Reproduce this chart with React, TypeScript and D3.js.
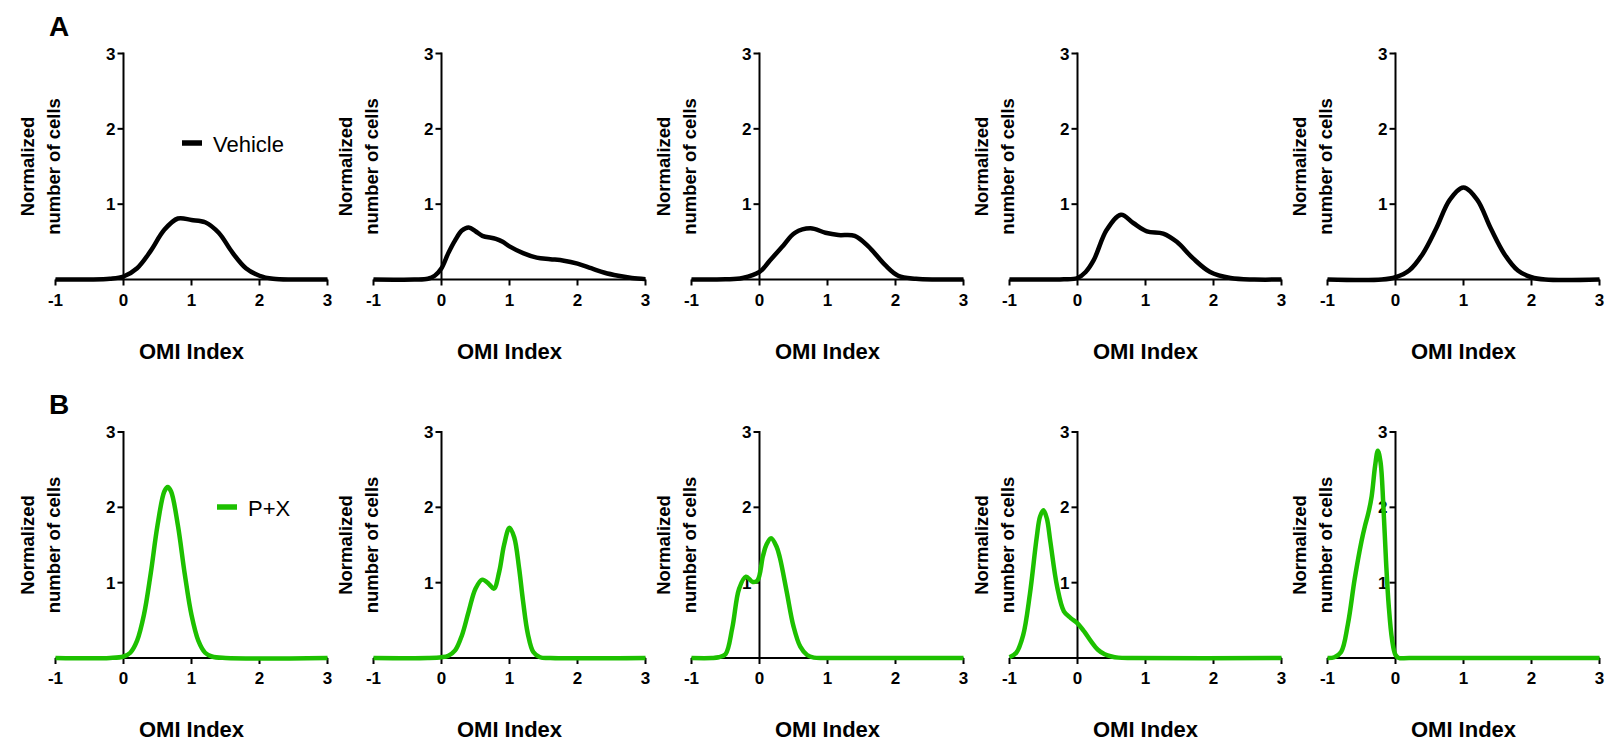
import React from 'react';
import * as d3 from 'd3';

// OMI index grid (x) and normalized cell counts (y), read per panel
const vehicle1X = [-1, -0.5, -0.2, 0, 0.2, 0.4, 0.6, 0.8, 1.0, 1.2, 1.4, 1.6, 1.8, 2.0, 2.2, 2.5, 3];
const vehicle1Y = [0, 0, 0.01, 0.04, 0.15, 0.38, 0.66, 0.81, 0.79, 0.76, 0.62, 0.36, 0.15, 0.05, 0.01, 0, 0];

const vehicle2X = [-1, -0.4, -0.2, -0.1, 0, 0.1, 0.2, 0.3, 0.4, 0.5, 0.6, 0.8, 0.9, 1.0, 1.2, 1.4, 1.6, 1.8, 2.0, 2.2, 2.4, 2.6, 2.8, 3];
const vehicle2Y = [0, 0, 0.01, 0.05, 0.15, 0.35, 0.52, 0.65, 0.69, 0.64, 0.58, 0.54, 0.5, 0.44, 0.35, 0.29, 0.27, 0.25, 0.21, 0.15, 0.09, 0.05, 0.02, 0.005];

const vehicle3X = [-1, -0.5, -0.25, 0, 0.15, 0.33, 0.52, 0.75, 0.97, 1.16, 1.4, 1.6, 1.85, 2.04, 2.3, 2.6, 3];
const vehicle3Y = [0, 0.003, 0.02, 0.1, 0.25, 0.43, 0.62, 0.68, 0.62, 0.59, 0.58, 0.44, 0.19, 0.05, 0.01, 0, 0];

const vehicle4X = [-1, -0.4, -0.2, 0, 0.12, 0.24, 0.43, 0.64, 0.82, 1.02, 1.26, 1.46, 1.7, 1.95, 2.25, 2.6, 3];
const vehicle4Y = [0, 0, 0.003, 0.02, 0.1, 0.26, 0.66, 0.86, 0.75, 0.64, 0.61, 0.5, 0.28, 0.1, 0.02, 0, 0];

const vehicle5X = [-1, -0.2, 0, 0.2, 0.4, 0.6, 0.8, 1.0, 1.2, 1.4, 1.6, 1.8, 2.0, 2.2, 3];
const vehicle5Y = [0, 0, 0.03, 0.12, 0.34, 0.68, 1.06, 1.22, 1.06, 0.68, 0.34, 0.12, 0.03, 0, 0];

const treated1X = [-1, -0.2, 0, 0.1, 0.2, 0.3, 0.4, 0.5, 0.6, 0.65, 0.7, 0.8, 0.9, 1.0, 1.1, 1.2, 1.3, 1.5, 3];
const treated1Y = [0, 0, 0.02, 0.07, 0.23, 0.57, 1.12, 1.76, 2.21, 2.27, 2.21, 1.76, 1.12, 0.57, 0.23, 0.07, 0.02, 0, 0];

const treated2X = [-1, -0.2, 0, 0.1, 0.2, 0.3, 0.4, 0.5, 0.6, 0.7, 0.77, 0.85, 0.92, 1.0, 1.07, 1.14, 1.2, 1.27, 1.35, 1.45, 1.6, 3];
const treated2Y = [0, 0, 0.01, 0.03, 0.1, 0.3, 0.62, 0.92, 1.04, 0.98, 0.92, 1.15, 1.5, 1.73, 1.6, 1.2, 0.75, 0.32, 0.08, 0.01, 0, 0];

const treated3X = [-1, -0.7, -0.6, -0.5, -0.4, -0.3, -0.2, -0.1, -0.03, 0.05, 0.1, 0.17, 0.25, 0.3, 0.4, 0.5, 0.6, 0.7, 0.8, 1.0, 3];
const treated3Y = [0, 0, 0.01, 0.05, 0.4, 0.92, 1.08, 1.01, 1.03, 1.35, 1.5, 1.59, 1.48, 1.33, 0.88, 0.42, 0.15, 0.04, 0.005, 0, 0];

const treated4X = [-1, -0.9, -0.8, -0.7, -0.6, -0.55, -0.5, -0.45, -0.4, -0.3, -0.2, -0.1, 0, 0.1, 0.2, 0.3, 0.4, 0.5, 0.6, 0.8, 3];
const treated4Y = [0.01, 0.07, 0.3, 0.85, 1.6, 1.88, 1.96, 1.85, 1.55, 0.95, 0.62, 0.53, 0.46, 0.35, 0.22, 0.11, 0.05, 0.02, 0.005, 0, 0];

const treated5X = [-1, -0.9, -0.8, -0.7, -0.6, -0.5, -0.45, -0.4, -0.35, -0.3, -0.26, -0.22, -0.18, -0.14, -0.1, -0.05, 0, 0.05, 0.2, 3];
const treated5Y = [0, 0.01, 0.08, 0.45, 1.05, 1.55, 1.75, 1.92, 2.15, 2.55, 2.75, 2.6, 2.05, 1.3, 0.7, 0.24, 0.04, 0, 0, 0];

const xTicks = [-1, 0, 1, 2, 3];
const yTicks = [1, 2, 3];

const rows = [
    {
        letter: 'A',
        legend: 'Vehicle',
        color: '#000000',
        panels: [[vehicle1X, vehicle1Y], [vehicle2X, vehicle2Y], [vehicle3X, vehicle3Y], [vehicle4X, vehicle4Y], [vehicle5X, vehicle5Y]]
    },
    {
        letter: 'B',
        legend: 'P+X',
        color: '#1dc000',
        panels: [[treated1X, treated1Y], [treated2X, treated2Y], [treated3X, treated3Y], [treated4X, treated4Y], [treated5X, treated5Y]]
    }
];

const FONT = '"Liberation Sans", Arial, Helvetica, sans-serif';

const panelLeft0 = 55.5;
const panelStep = 318;
const panelW = 272;
const panelH = 226;
const rowBase = [279.5, 658];
const legendPos = [{x: 182, y: 143}, {x: 217, y: 507}];

function Panel({xs, ys, left, base, color})
{
    const x = d3.scaleLinear().domain([-1, 3]).range([left, left + panelW]);
    const y = d3.scaleLinear().domain([0, 3]).range([base, base - panelH]);

    const pts = xs.map((v, i) => [v, ys[i]]);
    const line = d3.line()
        .x(d => x(d[0]))
        .y(d => y(d[1]))
        .curve(d3.curveCatmullRom.alpha(0.5));

    const x0 = x(0);
    const midY = (y(0) + y(3)) / 2;

    return (
        <g>
            {/* y axis title */}
            <text transform={`translate(${left - 22},${midY}) rotate(-90)`} textAnchor="middle"
                  fontFamily={FONT} fontWeight="bold" fontSize={18.5}>Normalized</text>
            <text transform={`translate(${left + 4},${midY}) rotate(-90)`} textAnchor="middle"
                  fontFamily={FONT} fontWeight="bold" fontSize={18.5}>number of cells</text>

            {/* x axis */}
            <line x1={x(-1)} x2={x(3)} y1={y(0)} y2={y(0)} stroke="#000" strokeWidth={2}/>
            {xTicks.map(t => (
                <g key={'x' + t}>
                    <line x1={x(t)} x2={x(t)} y1={y(0)} y2={y(0) + 6} stroke="#000" strokeWidth={2}/>
                    <text x={x(t)} y={y(0) + 26} textAnchor="middle" fontFamily={FONT}
                          fontWeight="bold" fontSize={17}>{t}</text>
                </g>
            ))}
            <text x={x(1)} y={y(0) + 79} textAnchor="middle" fontFamily={FONT}
                  fontWeight="bold" fontSize={22}>OMI Index</text>

            {/* y axis */}
            <line x1={x0} x2={x0} y1={y(0)} y2={y(3) - 1} stroke="#000" strokeWidth={2}/>
            {yTicks.map(t => (
                <g key={'y' + t}>
                    <line x1={x0 - 6} x2={x0} y1={y(t)} y2={y(t)} stroke="#000" strokeWidth={2}/>
                    <text x={x0 - 8} y={y(t) + 6} textAnchor="end" fontFamily={FONT}
                          fontWeight="bold" fontSize={17}>{t}</text>
                </g>
            ))}

            <path d={line(pts)} fill="none" stroke={color} strokeWidth={4.5} strokeLinejoin="round"/>
        </g>
    );
}

export default function App()
{
    return (
        <div style={{position: 'absolute', left: 0, top: 0}}>
            <svg width={1610} height={746} style={{display: 'block', background: '#fff'}}>
                {rows.map((row, r) => (
                    <g key={row.letter}>
                        <text x={49} y={r === 0 ? 36 : 414} fontFamily={FONT} fontWeight="bold"
                              fontSize={28}>{row.letter}</text>
                        {row.panels.map((p, i) => (
                            <Panel key={i} xs={p[0]} ys={p[1]} left={panelLeft0 + i * panelStep}
                                   base={rowBase[r]} color={row.color}/>
                        ))}
                        <line x1={legendPos[r].x} x2={legendPos[r].x + 20} y1={legendPos[r].y} y2={legendPos[r].y}
                              stroke={row.color} strokeWidth={5.5}/>
                        <text x={legendPos[r].x + 31} y={legendPos[r].y + 9} fontFamily={FONT}
                              fontSize={22}>{row.legend}</text>
                    </g>
                ))}
            </svg>
        </div>
    );
}
